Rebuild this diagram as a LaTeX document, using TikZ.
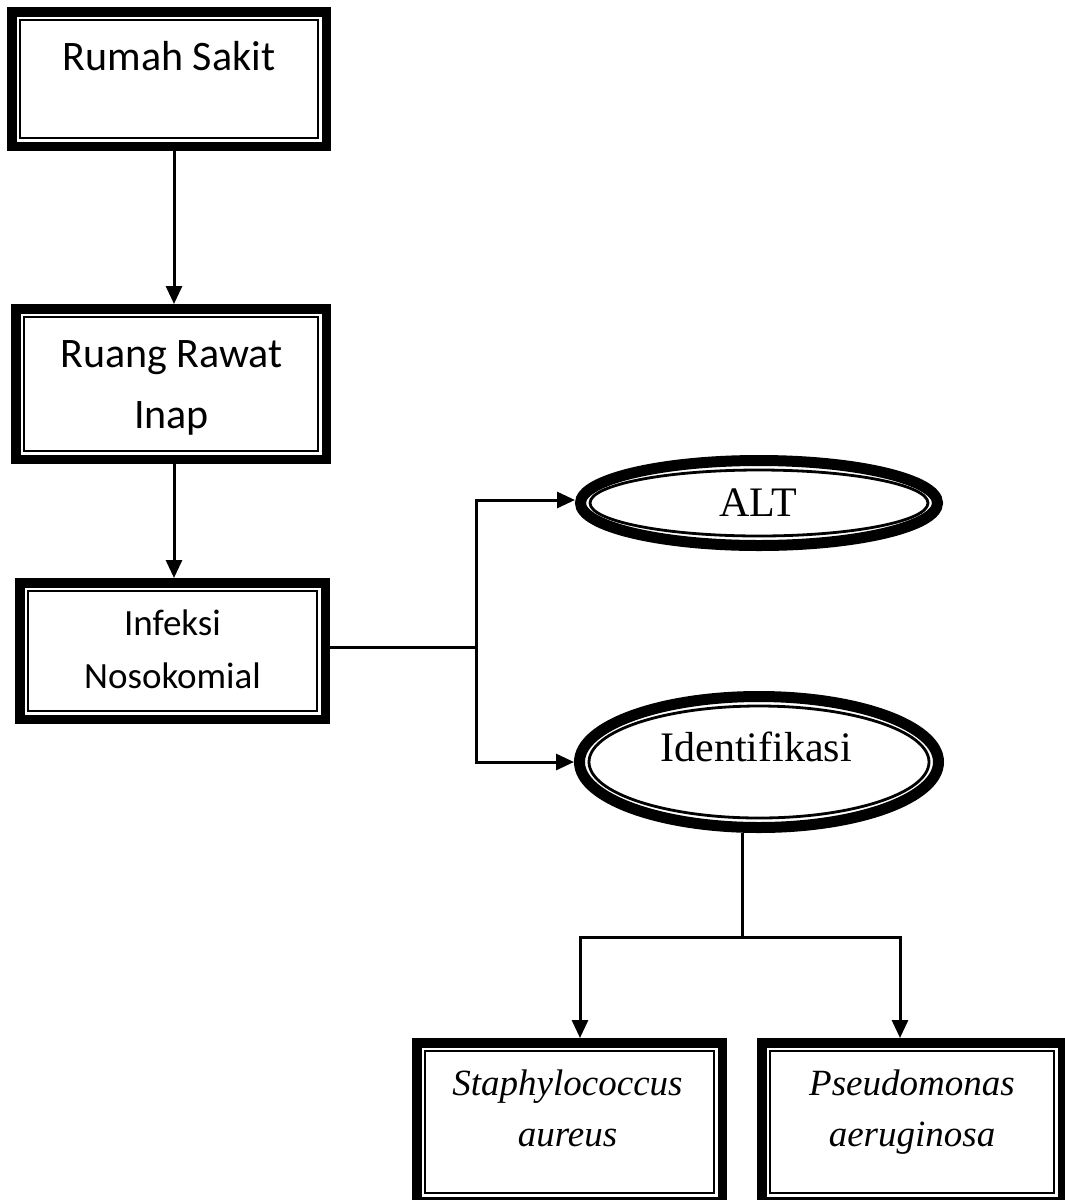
\documentclass[tikz,border=0pt]{standalone}
\usepackage{fontspec}
\newfontfamily\calfont{Carlito}
\newfontfamily\timesfont{Liberation Serif}
\usetikzlibrary{arrows.meta,shapes.geometric,calc}

\begin{document}
\begin{tikzpicture}[x=1pt,y=-1pt,
  box/.style={rectangle,draw=none,inner sep=0pt,outer sep=0pt},
  oval/.style={ellipse,draw=none,inner sep=0pt,outer sep=0pt},
  thickline/.style={line width=9.5pt},
  ovalthick/.style={line width=11pt},
  thinline/.style={line width=2.8pt},
  conn/.style={line width=3pt,line join=miter},
  arr/.style={conn,-{Triangle[length=18pt,width=16pt]}},
  ctext/.style={font=\calfont\fontsize{42}{50}\selectfont,anchor=base,inner sep=0pt},
  ctextsmall/.style={font=\calfont\fontsize{37}{44}\selectfont,anchor=base,inner sep=0pt},
  ttext/.style={font=\timesfont\fontsize{42}{50}\selectfont,anchor=base,inner sep=0pt},
  itext/.style={font=\timesfont\itshape\fontsize{37}{44}\selectfont,anchor=base,inner sep=0pt}
]
\useasboundingbox (0,0) rectangle (1065,1200);
\clip (0,0) rectangle (1065,1200);
\fill[white] (0,0) rectangle (1065,1200);

% shape nodes
\node[box,minimum width=324pt,minimum height=144pt] (b1) at (169,79) {};
\node[box,minimum width=320pt,minimum height=160pt] (b2) at (171,384) {};
\node[box,minimum width=315pt,minimum height=146pt] (b3) at (172.5,651) {};
\node[box,minimum width=315pt,minimum height=168pt] (b4) at (569.5,1122) {};
\node[box,minimum width=310pt,minimum height=168pt] (b5) at (912,1122) {};
\node[oval,minimum width=368pt,minimum height=96pt] (alt) at (759,503) {};
\node[oval,minimum width=370pt,minimum height=142pt] (ide) at (759,762) {};

% frames
\foreach \n in {b1,b2,b3,b4,b5}{
  \draw[thickline] ([shift={(4.75,4.75)}]\n.north west) rectangle ([shift={(-4.75,-4.75)}]\n.south east);
  \draw[thinline] ([shift={(13,13)}]\n.north west) rectangle ([shift={(-13,-13)}]\n.south east);
}
\draw[ovalthick] (alt.center) ellipse [x radius=178.5pt, y radius=42.5pt];
\draw[thinline] (alt.center) ellipse [x radius=169pt, y radius=33pt];
\draw[ovalthick] (ide.center) ellipse [x radius=179.5pt, y radius=65.5pt];
\draw[thinline] (ide.center) ellipse [x radius=170pt, y radius=56pt];

% texts
\node[ctext] (t1) at (169,70) {Rumah Sakit};
\node[ctext] (t2a) at (171.5,367) {Ruang Rawat};
\node[ctext] (t2b) at (171.5,428) {Inap};
\node[ctextsmall] (t3a) at (172.5,635) {Infeksi};
\node[ctextsmall] (t3b) at (172.5,688) {Nosokomial};
\node[ttext] (t4) at (758.5,516) {ALT};
\node[ttext] (t5) at (756,761) {Identifikasi};
\node[itext] (t6a) at (567.5,1095) {Staphylococcus};
\node[itext] (t6b) at (567.5,1146) {aureus};
\node[itext] (t7a) at (912,1095) {Pseudomonas};
\node[itext] (t7b) at (912,1146) {aeruginosa};

% connectors
\draw[arr] ([xshift=5pt]b1.south) -- ([xshift=5pt]b1.south |- b2.north);
\draw[arr] ([xshift=3pt]b2.south) -- ([xshift=3pt]b2.south |- b3.north);

\coordinate (jx) at (476,0);
\coordinate (s3) at ([yshift=4pt]b3.east);
\coordinate (j1) at (s3 -| jx);
\draw[conn] (s3) -- (j1);
\coordinate (altin) at ([yshift=3pt]alt.west);
\draw[arr] (j1) |- (altin);
\draw[arr] (j1) |- (ide.west);

\coordinate (jy) at (0,937);
\coordinate (s6) at ([xshift=-17pt]ide.south);
\coordinate (j2) at (s6 |- jy);
\draw[conn] (s6) -- (j2);
\coordinate (b4in) at ([xshift=10.5pt]b4.north);
\coordinate (b5in) at ([xshift=-12pt]b5.north);
\draw[arr] (j2) -| (b4in);
\draw[arr] (j2) -| (b5in);
\end{tikzpicture}
\end{document}
